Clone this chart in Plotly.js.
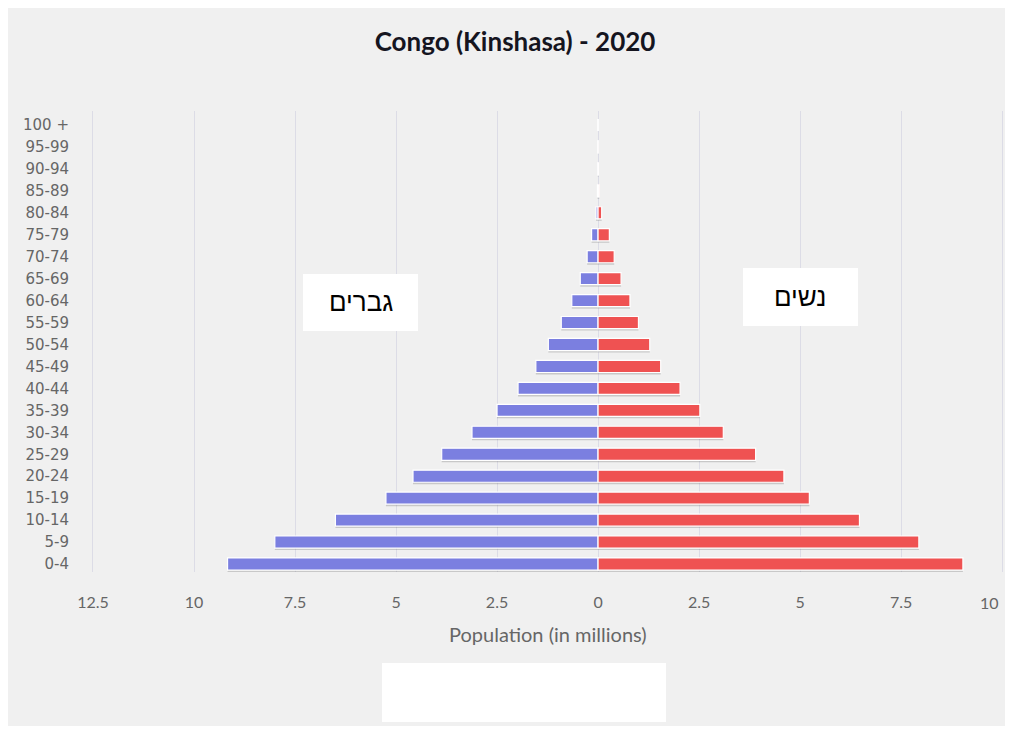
<!DOCTYPE html>
<html>
<head>
<meta charset="utf-8">
<script src="https://cdn.plot.ly/plotly-3.0.1.min.js"></script>
<style>
  html, body { margin: 0; padding: 0; background: #ffffff; }
  #chart { position: absolute; left: 0; top: 0; width: 1013px; height: 734px; }
  #frame { position: absolute; left: 0; top: 0; width: 1013px; height: 734px; box-sizing: border-box;
           border: 8px solid #ffffff; pointer-events: none; }
</style>
</head>
<body>
<div id="chart"></div>
<div id="frame"></div>
<script>
// ---- data (population in millions) ----
const ageGroups = ['0-4','5-9','10-14','15-19','20-24','25-29','30-34','35-39','40-44','45-49',
                   '50-54','55-59','60-64','65-69','70-74','75-79','80-84','85-89','90-94','95-99','100 +'];
const maleValues   = [9.17, 8.00, 6.50, 5.25, 4.58, 3.87, 3.12, 2.50, 1.98, 1.54,
                      1.23, 0.91, 0.65, 0.44, 0.27, 0.16, 0.05, 0.015, 0.004, 0.0005, 0];
const femaleValues = [9.03, 7.94, 6.47, 5.23, 4.60, 3.90, 3.10, 2.52, 2.03, 1.55,
                      1.28, 1.00, 0.79, 0.57, 0.40, 0.28, 0.09, 0.03, 0.008, 0.001, 0];
const tickValues = [-12.5, -10, -7.5, -5, -2.5, 0, 2.5, 5, 7.5, 10];
const tickLabels = ['12.5', '10', '7.5', '5', '2.5', '0', '2.5', '5', '7.5', '10'];
const titleText = 'Congo (Kinshasa) - 2020';
const xTitleText = 'Population (in millions)';
const maleLabel = 'גברים';
const femaleLabel = 'נשים';

const maleNeg = maleValues.map(v => -v);

// the last tick label is justified inside the chart edge (drawn as an annotation at its tick value)
const lastIdx = tickValues.length - 1;
const axisTickText = tickLabels.map((t, i) => i === lastIdx ? '' : t);

const barWidth = 0.55;
const shadow = 'rgba(110,110,110,0.30)';
const tickFont = { family: 'Lato, "Open Sans", sans-serif', size: 16, color: '#666666' };

const traces = [
  { type: 'bar', orientation: 'h', y: ageGroups, x: maleNeg, width: barWidth, offset: -barWidth/2 - 0.09,
    marker: { color: shadow, line: { width: 0 } }, hoverinfo: 'skip', showlegend: false },
  { type: 'bar', orientation: 'h', y: ageGroups, x: femaleValues, width: barWidth, offset: -barWidth/2 - 0.09,
    marker: { color: shadow, line: { width: 0 } }, hoverinfo: 'skip', showlegend: false },
  { type: 'bar', orientation: 'h', y: ageGroups, x: maleNeg, width: barWidth, offset: -barWidth/2,
    name: 'Male', marker: { color: '#7b7fe0', line: { color: '#ffffff', width: 1.2 } }, showlegend: false },
  { type: 'bar', orientation: 'h', y: ageGroups, x: femaleValues, width: barWidth, offset: -barWidth/2,
    name: 'Female', marker: { color: '#ef5252', line: { color: '#ffffff', width: 1.2 } }, showlegend: false }
];

const layout = {
  width: 1013, height: 734,
  margin: { l: 93, r: 0, t: 111, b: 162 },
  paper_bgcolor: '#f0f0f0',
  plot_bgcolor: 'rgba(0,0,0,0)',
  barmode: 'overlay',
  showlegend: false,
  title: { text: titleText, x: 0.5084, xanchor: 'center', xref: 'container',
           y: 0.9428, yanchor: 'middle', yref: 'container',
           font: { family: 'Lato, "Open Sans", sans-serif', size: 26, color: '#15151f', weight: 700 } },
  xaxis: {
    range: [-12.5, 10.27],
    tickmode: 'array', tickvals: tickValues, ticktext: axisTickText,
    showgrid: true, gridcolor: '#dcdce6', gridwidth: 1,
    zeroline: false, showline: false,
    ticks: 'outside', ticklen: 16, tickcolor: 'rgba(0,0,0,0)',
    tickfont: tickFont,
    fixedrange: true
  },
  yaxis: {
    type: 'category',
    range: [-0.364, 20.638],
    showgrid: false, zeroline: false,
    showline: true, linecolor: '#dcdce6', linewidth: 1,
    ticks: 'outside', ticklen: 20, tickcolor: 'rgba(0,0,0,0)',
    tickfont: { family: '"DejaVu Sans", sans-serif', size: 15, color: '#666666' },
    fixedrange: true
  },
  shapes: [
    { type: 'rect', xref: 'paper', yref: 'paper', x0: 0.2283, x1: 0.3533, y0: 0.5228, y1: 0.6464,
      fillcolor: '#ffffff', line: { width: 0 }, layer: 'above' },
    { type: 'rect', xref: 'paper', yref: 'paper', x0: 0.7065, x1: 0.8315, y0: 0.5336, y1: 0.6594,
      fillcolor: '#ffffff', line: { width: 0 }, layer: 'above' },
    { type: 'rect', xref: 'paper', yref: 'paper', x0: 0.3141, x1: 0.6228, y0: -0.3254, y1: -0.1974,
      fillcolor: '#ffffff', line: { width: 0 }, layer: 'above' }
  ],
  annotations: [
    { text: tickLabels[lastIdx], xref: 'x', yref: 'paper', x: tickValues[lastIdx], y: -0.0651,
      xanchor: 'right', yanchor: 'middle', xshift: -1, showarrow: false, font: tickFont },
    { text: xTitleText, xref: 'paper', yref: 'paper', x: 0.4946, y: -0.1345,
      xanchor: 'center', yanchor: 'middle', showarrow: false,
      font: { family: 'Lato, "Open Sans", sans-serif', size: 20, color: '#666666' } },
    { text: maleLabel, xref: 'paper', yref: 'paper', x: 0.2908, y: 0.5846,
      xanchor: 'center', yanchor: 'middle', showarrow: false,
      font: { family: '"Liberation Sans", Arial, sans-serif', size: 26, color: '#000000' } },
    { text: femaleLabel, xref: 'paper', yref: 'paper', x: 0.7690, y: 0.5965,
      xanchor: 'center', yanchor: 'middle', showarrow: false,
      font: { family: '"Liberation Sans", Arial, sans-serif', size: 26, color: '#000000' } }
  ]
};

Plotly.newPlot('chart', traces, layout, { displayModeBar: false, staticPlot: true });
</script>
</body>
</html>
